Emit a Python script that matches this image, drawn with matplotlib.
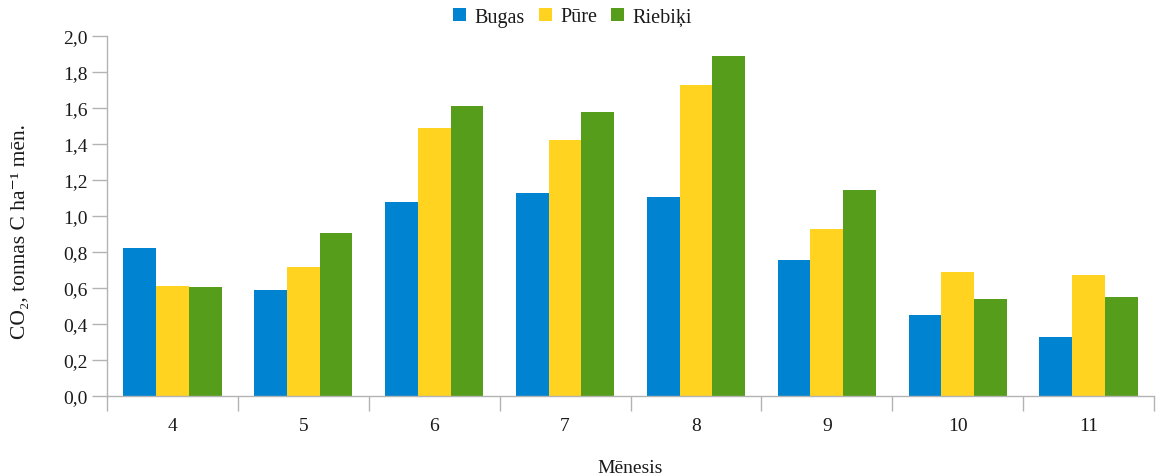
import matplotlib
matplotlib.use("Agg")
import matplotlib.pyplot as plt
import numpy as np

plt.rcParams['font.family'] = ['Liberation Serif', 'DejaVu Serif']

months = ["4", "5", "6", "7", "8", "9", "10", "11"]
bugas = [0.82, 0.59, 1.08, 1.13, 1.105, 0.755, 0.45, 0.33]
pure = [0.61, 0.715, 1.49, 1.42, 1.73, 0.93, 0.69, 0.67]
riebiki = [0.605, 0.905, 1.61, 1.58, 1.89, 1.145, 0.54, 0.55]
series_names = ["Bugas", "Pūre", "Riebiķi"]
colors = ["#0084d1", "#ffd320", "#579d1c"]
yticks = [0.0, 0.2, 0.4, 0.6, 0.8, 1.0, 1.2, 1.4, 1.6, 1.8, 2.0]
ytick_labels = [f"{v:.1f}".replace(".", ",") for v in yticks]

fig = plt.figure(figsize=(11.56, 4.77), dpi=100)
ax = fig.add_axes([107/1156, 1-397/477, (1154-107)/1156, 360/477])

x = np.arange(len(months))
w = 0.25
for i, (vals, name, c) in enumerate(zip([bugas, pure, riebiki], series_names, colors)):
    ax.bar(x + (i - 1) * w, vals, width=w, color=c, label=name, zorder=2)

ax.set_xlim(-0.5, len(months) - 0.5)
ax.set_ylim(0, 2.0)
ax.set_yticks(yticks)
ax.set_yticklabels(ytick_labels)
ax.set_xticks(x)
ax.set_xticklabels(months)
ax.set_xticks(np.arange(len(months) + 1) - 0.5, minor=True)

grey = "#b3b3b3"
txt = "#1a1a1a"
for s in ["top", "right"]:
    ax.spines[s].set_visible(False)
for s in ["left", "bottom"]:
    ax.spines[s].set_color(grey)
    ax.spines[s].set_linewidth(1.0)

ax.tick_params(axis="x", which="major", length=0, pad=15, labelsize=14, labelcolor=txt)
ax.tick_params(axis="x", which="minor", length=11, color=grey, width=1.0)
ax.tick_params(axis="y", length=11, color=grey, width=1.0, labelsize=14, labelcolor=txt, pad=3)

ax.set_xlabel("Mēnesis", fontsize=14, color=txt, labelpad=18)
ax.set_ylabel("CO₂, tonnas C ha⁻¹ mēn.", fontsize=15.5, color=txt)
ax.yaxis.set_label_coords(-0.074, (397 - 232) / 360)

leg = fig.legend(loc="center", bbox_to_anchor=(572.5/1156, 1-18/477), ncol=3, frameon=False,
                 fontsize=14.5, handlelength=0.65, handleheight=0.65, handletextpad=0.4,
                 columnspacing=0.7, labelcolor=txt)

fig.savefig("out.png", dpi=100)
